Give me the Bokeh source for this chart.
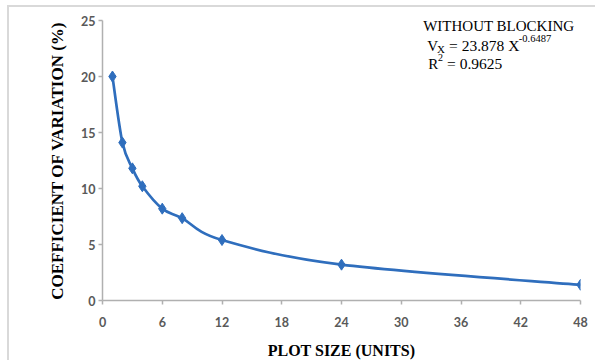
from bokeh.plotting import figure
from bokeh.models import Range1d, FixedTicker, Label
from bokeh.embed import file_html
from bokeh.resources import INLINE

plot_size = [1, 2, 3, 4, 6, 8, 12, 24, 48]
cv = [20.0, 14.1, 11.8, 10.2, 8.2, 7.35, 5.4, 3.2, 1.4]
x_ticks = [0, 6, 12, 18, 24, 30, 36, 42, 48]
y_ticks = [0, 5, 10, 15, 20, 25]

BLUE = "#2f6ebd"

p = figure(width=588, height=355, output_backend="svg", toolbar_location=None,
           x_range=Range1d(0, 48), y_range=Range1d(0, 25),
           min_border_left=93, min_border_top=13, min_border_right=17, min_border_bottom=62)
p.styles = {"margin-left": "7px", "margin-top": "5px",
            "border-left": "2px solid #d9d9d9", "border-top": "2px solid #d9d9d9"}
p.outline_line_color = None
p.xgrid.visible = False
p.ygrid.visible = False

for ax in (p.xaxis[0], p.yaxis[0]):
    ax.axis_line_color = "#b0b0b0"
    ax.axis_line_width = 1.5
    ax.major_tick_line_color = "#b0b0b0"
    ax.major_tick_line_width = 1.5
    ax.minor_tick_line_color = None
    ax.major_tick_out = 4
    ax.major_tick_in = 0
    ax.major_label_text_font = "Lato"
    ax.major_label_text_font_size = "12.5px"
    ax.major_label_text_font_style = "bold"
    ax.major_label_text_color = "#595959"
    ax.axis_label_text_font = "Liberation Serif"
    ax.axis_label_text_font_style = "bold"
    ax.axis_label_text_color = "#000000"

p.xaxis.ticker = FixedTicker(ticks=x_ticks)
p.yaxis.ticker = FixedTicker(ticks=y_ticks)
p.xaxis.major_label_standoff = 12
p.yaxis.major_label_standoff = 3
p.xaxis.axis_label = "PLOT SIZE (UNITS)"
p.yaxis.axis_label = "COEFFICIENT OF VARIATION (%)"
p.xaxis.axis_label_text_font_size = "16px"
p.yaxis.axis_label_text_font_size = "17px"
p.xaxis.axis_label_standoff = 12
p.yaxis.axis_label_standoff = 11

# smoothed line (Catmull-Rom style Bezier as in spreadsheet smoothing)
n = len(plot_size)
x0s, y0s, x1s, y1s, cx0, cy0, cx1, cy1 = [], [], [], [], [], [], [], []
for i in range(n - 1):
    xm, ym = plot_size[max(i - 1, 0)], cv[max(i - 1, 0)]
    xa, ya = plot_size[i], cv[i]
    xb, yb = plot_size[i + 1], cv[i + 1]
    xp, yp = plot_size[min(i + 2, n - 1)], cv[min(i + 2, n - 1)]
    x0s.append(xa); y0s.append(ya); x1s.append(xb); y1s.append(yb)
    cx0.append(xa + (xb - xm) / 6); cy0.append(ya + (yb - ym) / 6)
    cx1.append(xb - (xp - xa) / 6); cy1.append(yb - (yp - ya) / 6)
p.bezier(x0=x0s, y0=y0s, x1=x1s, y1=y1s, cx0=cx0, cy0=cy0, cx1=cx1, cy1=cy1,
         line_color=BLUE, line_width=2.7)
p.scatter(plot_size, cv, marker="diamond", size=11, fill_color=BLUE, line_color=BLUE)

font = "Liberation Serif"


def lab(x, y, text, size):
    p.add_layout(Label(x=x, y=y, text=text, text_font=font, text_font_size=size,
                       text_color="#000000", text_baseline="alphabetic", text_align="left"))


lab(32.2, 24.55, "WITHOUT BLOCKING", "15px")
lab(32.6, 22.75, "V", "15px")
lab(33.6, 22.45, "X", "11px")
lab(34.8, 22.75, "= 23.878 X", "15.5px")
lab(41.8, 23.4, "-0.6487", "10.5px")
lab(32.7, 21.15, "R", "15px")
lab(33.7, 21.7, "2", "10px")
lab(34.6, 21.15, "= 0.9625", "15.5px")

open("out.html", "w").write(file_html(p, INLINE))
